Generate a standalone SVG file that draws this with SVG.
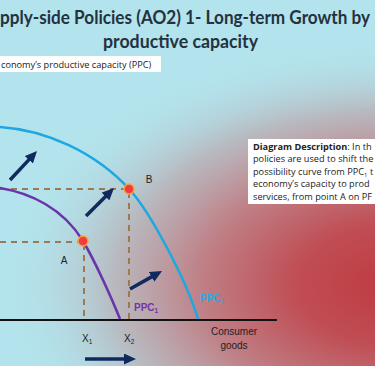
<svg xmlns="http://www.w3.org/2000/svg" width="375" height="366" viewBox="0 0 375 366">
  <defs>
    <radialGradient id="redGlow" gradientUnits="userSpaceOnUse" cx="395" cy="285" r="390" gradientTransform="translate(395 285) scale(1 0.62) translate(-395 -285)">
      <stop offset="0" stop-color="#bf3a40"/>
      <stop offset="0.25" stop-color="#c04d54"/>
      <stop offset="0.5" stop-color="#bf8086"/>
      <stop offset="0.72" stop-color="#b9b1b7" stop-opacity="0.85"/>
      <stop offset="1" stop-color="#b3e3ec" stop-opacity="0"/>
    </radialGradient>
    <marker id="head" markerUnits="userSpaceOnUse" viewBox="0 0 12 11" markerWidth="12" markerHeight="11" refX="3" refY="5.5" orient="auto">
      <path d="M0,0 L12,5.5 L0,11 z" fill="#112a5e"/>
    </marker>
    <style>
      .title { font-family: Lato, "Open Sans", sans-serif; font-weight: bold; font-size: 18px; fill: #243240; }
      .small { font-family: "Open Sans", "Liberation Sans", sans-serif; font-size: 9.2px; fill: #222; }
      .lbl { font-family: "Liberation Sans", Arial, sans-serif; font-size: 10px; fill: #222; }
      .dash { stroke: #9a7a52; stroke-width: 2; stroke-dasharray: 6 5; fill: none; }
      .arrow { stroke: #112a5e; stroke-width: 3.5; fill: none; marker-end: url(#head); }
      .pt { fill: #f03c3c; stroke: #f5a540; stroke-width: 1.5; }
    </style>
  </defs>

  <g id="background">
    <rect x="0" y="0" width="375" height="366" fill="#b3e3ec"/>
    <rect x="0" y="0" width="375" height="366" fill="url(#redGlow)"/>
  </g>

  <g id="title">
    <text class="title" x="0" y="24" textLength="370" lengthAdjust="spacingAndGlyphs">pply-side Policies (AO2) 1- Long-term Growth by</text>
    <text class="title" x="103" y="48" textLength="155" lengthAdjust="spacingAndGlyphs">productive capacity</text>
  </g>

  <g id="subtitle">
    <rect x="0" y="56" width="161" height="16" fill="#ffffff"/>
    <text class="small" x="1" y="67.5" font-size="9.4">conomy’s productive capacity (PPC)</text>
  </g>

  <g id="description">
    <rect x="248" y="139" width="130" height="65" fill="#ffffff"/>
    <text class="small" x="253" y="149.5"><tspan font-weight="bold">Diagram Description</tspan>: In th</text>
    <text class="small" x="253" y="162">policies are used to shift the</text>
    <text class="small" x="253" y="174.5">possibility curve from PPC<tspan font-size="6" dy="2">1</tspan><tspan dy="-2"> t</tspan></text>
    <text class="small" x="253" y="187">economy’s capacity to prod</text>
    <text class="small" x="253" y="199.5">services, from point A on PF</text>
  </g>

  <g id="axis">
    <line x1="0" y1="320" x2="277" y2="320" stroke="#111" stroke-width="2"/>
  </g>

  <g id="connectors">
    <line class="dash" x1="0" y1="189" x2="126" y2="189"/>
    <line class="dash" x1="0" y1="242" x2="80" y2="242"/>
    <line class="dash" x1="84" y1="244" x2="84" y2="319"/>
    <line class="dash" x1="129" y1="192" x2="129" y2="319"/>
    <line class="arrow" x1="10" y1="180" x2="30.9" y2="157.6"/>
    <line class="arrow" x1="86" y1="216" x2="107.6" y2="194.4"/>
    <line class="arrow" x1="130" y1="289" x2="154.2" y2="275.4"/>
    <line class="arrow" x1="85" y1="359" x2="127" y2="359"/>
  </g>

  <g id="ppc2">
    <path d="M-20,125.5 L0,127 C45,130 95,151.5 130,190 C150,212 186,279 198,319" fill="none" stroke="#1ea8e2" stroke-width="2.6"/>
    <text x="200" y="302" font-family="'Liberation Sans', Arial, sans-serif" font-weight="bold" font-size="10" fill="#2aaae2">PPC<tspan font-size="6.5" dy="2">2</tspan></text>
  </g>

  <g id="ppc1">
    <path d="M-20,185 L0,188 C30,193 63,208 83,241 C95,261 112,299 120,319" fill="none" stroke="#6a35a8" stroke-width="2.6"/>
    <text x="134" y="311" font-family="'Liberation Sans', Arial, sans-serif" font-weight="bold" font-size="10" fill="#7434a8">PPC<tspan font-size="6.5" dy="2">1</tspan></text>
  </g>

  <g id="pointA">
    <circle class="pt" cx="83" cy="241" r="5"/>
    <text class="lbl" x="64" y="264" text-anchor="middle">A</text>
  </g>

  <g id="pointB">
    <circle class="pt" cx="129" cy="189" r="5"/>
    <text class="lbl" x="149" y="183" text-anchor="middle">B</text>
  </g>

  <g id="x1">
    <text class="lbl" x="82" y="342">X<tspan font-size="6.5" dy="2">1</tspan></text>
  </g>
  <g id="x2">
    <text class="lbl" x="124" y="342">X<tspan font-size="6.5" dy="2">2</tspan></text>
  </g>

  <g id="xlabel">
    <text class="lbl" x="234" y="335" text-anchor="middle" font-size="10.5">Consumer</text>
    <text class="lbl" x="234" y="349" text-anchor="middle" font-size="10.5">goods</text>
  </g>
</svg>
